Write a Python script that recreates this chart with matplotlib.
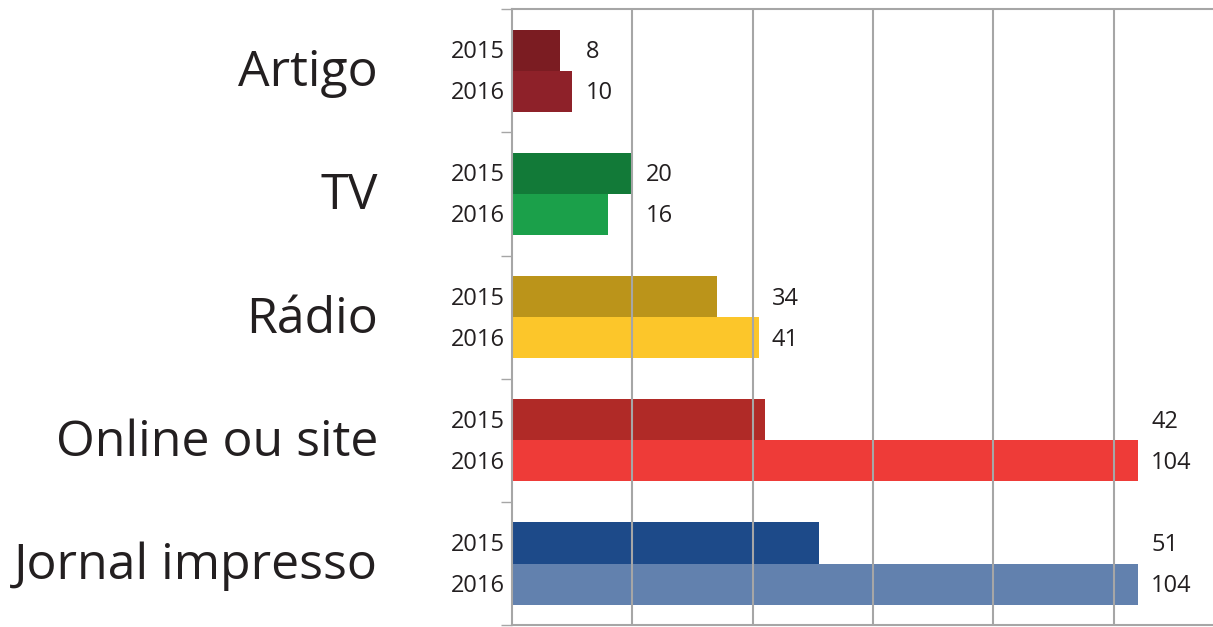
import numpy as np
import matplotlib.pyplot as plt

plt.rcParams['font.family'] = ['Open Sans', 'DejaVu Sans']

categories = ["Artigo", "TV", "Rádio", "Online ou site", "Jornal impresso"]
years = ["2015", "2016"]
values_2015 = [8, 20, 34, 42, 51]
values_2016 = [10, 16, 41, 104, 104]
colors_2015 = ["#7B1C22", "#127A38", "#BB941A", "#B02A27", "#1D4A89"]
colors_2016 = ["#8E2129", "#1BA04A", "#FCC62A", "#EE3B38", "#6281AE"]

text_col = "#231F20"
grid_col = "#A6A6A6"

fig = plt.figure(figsize=(12.13, 6.27), dpi=100)
ax = fig.add_axes([0.4221, 0.003, 0.5779, 0.9825])

y = np.arange(len(categories)) + 0.5
h = 0.333
ax.barh(y - h / 2, values_2015, height=h, color=colors_2015, zorder=1)
ax.barh(y + h / 2, values_2016, height=h, color=colors_2016, zorder=1)

ax.set_xlim(0, 116.5)
ax.set_ylim(len(categories), 0)

ax.set_xticks([20, 40, 60, 80, 100])
ax.xaxis.grid(True, color=grid_col, lw=1.5, zorder=2)
ax.set_axisbelow(False)
ax.tick_params(axis='x', length=0, labelbottom=False)

ax.set_yticks(np.arange(len(categories) + 1))
ax.set_yticklabels([])
ax.tick_params(axis='y', length=8, width=1, color=grid_col, direction='out')

for side in ['left', 'top', 'bottom']:
    ax.spines[side].set_color(grid_col)
    ax.spines[side].set_linewidth(1.5)
ax.spines['right'].set_visible(False)

fs = 17
dy = 0.016  # nudge small labels down a touch
trans = ax.get_yaxis_transform()
for i, cat in enumerate(categories):
    ax.text(-0.191, y[i] + 0.126, cat, transform=trans, ha='right', va='baseline',
            fontsize=36, color=text_col)
    ax.text(-0.01, y[i] - h / 2 + dy, years[0], transform=trans, ha='right', va='center',
            fontsize=fs, color=text_col)
    ax.text(-0.01, y[i] + h / 2 + dy, years[1], transform=trans, ha='right', va='center',
            fontsize=fs, color=text_col)
    lx = max(values_2015[i], values_2016[i]) + 2.2
    ax.text(lx, y[i] - h / 2 + dy, str(values_2015[i]), ha='left', va='center',
            fontsize=fs, color=text_col)
    ax.text(lx, y[i] + h / 2 + dy, str(values_2016[i]), ha='left', va='center',
            fontsize=fs, color=text_col)

fig.savefig("out.png", dpi=100)
